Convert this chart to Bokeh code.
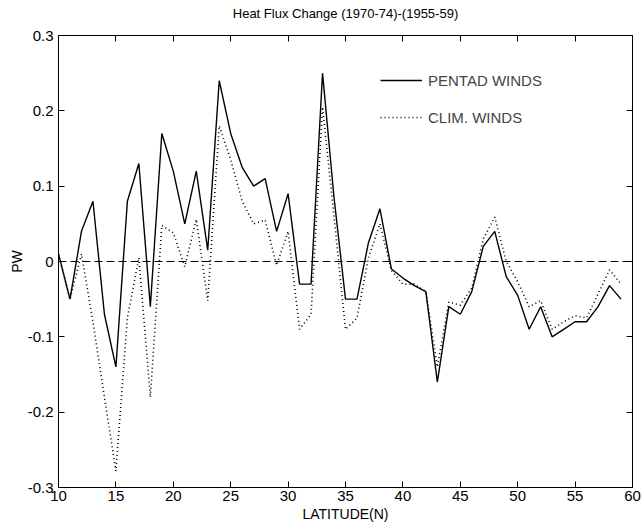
from bokeh.plotting import figure
from bokeh.models import (LinearAxis, Range1d, Span, Legend, LegendItem, FixedTicker,
                          CustomLabelingPolicy)
from bokeh.embed import file_html
from bokeh.resources import INLINE

# ---------------- data ----------------
latitude = list(range(10, 60))
pentad_winds = [0.01, -0.05, 0.04, 0.08, -0.07, -0.14, 0.08, 0.13, -0.06, 0.17,
                0.12, 0.05, 0.12, 0.015, 0.24, 0.17, 0.125, 0.10, 0.11, 0.04,
                0.09, -0.03, -0.03, 0.25, 0.085, -0.05, -0.05, 0.025, 0.07, -0.01,
                -0.022, -0.032, -0.04, -0.16, -0.06, -0.07, -0.04, 0.02, 0.04, -0.02,
                -0.045, -0.09, -0.06, -0.10, -0.09, -0.08, -0.08, -0.06, -0.032, -0.05]
clim_winds = [0.01, -0.05, 0.01, -0.08, -0.18, -0.278, -0.075, 0.005, -0.18, 0.048,
              0.038, -0.007, 0.056, -0.052, 0.18, 0.135, 0.08, 0.05, 0.055, -0.005,
              0.04, -0.09, -0.07, 0.205, 0.06, -0.09, -0.075, 0.005, 0.05, -0.012,
              -0.03, -0.03, -0.04, -0.14, -0.054, -0.058, -0.035, 0.03, 0.059, 0.0,
              -0.027, -0.06, -0.052, -0.09, -0.08, -0.072, -0.075, -0.043, -0.011, -0.03]
x_ticks = [10, 15, 20, 25, 30, 35, 40, 45, 50, 55, 60]
y_ticks = [-0.3, -0.2, -0.1, 0, 0.1, 0.2, 0.3]
y_tick_labels = ["-0.3", "-0.2", "-0.1", "0", "0.1", "0.2", "0.3"]
series_labels = ["PENTAD WINDS", "CLIM. WINDS"]
title_text = "Heat Flux Change (1970-74)-(1955-59)"

FONT = "'Liberation Sans', Arial, sans-serif"

p = figure(width=641, height=525, output_backend="svg", toolbar_location=None,
           x_range=Range1d(10, 60), y_range=Range1d(-0.3, 0.3),
           min_border_left=58, min_border_right=9, min_border_top=35,
           min_border_bottom=38)
p.background_fill_color = "white"
p.border_fill_color = "white"
p.outline_line_color = "black"
p.outline_line_width = 1
p.grid.visible = False

no_labels = CustomLabelingPolicy(code="for (const i of [...indices]) indices.unset(i); return indices;")

def style_axis(ax, labels=True):
    ax.axis_line_color = "black"
    ax.major_tick_in = 6
    ax.major_tick_out = 0
    ax.minor_tick_line_color = None
    ax.major_tick_line_color = "black"
    ax.major_label_text_font = FONT
    ax.major_label_text_color = "black"
    ax.axis_label_text_font = FONT
    ax.axis_label_text_font_size = "14px"
    ax.axis_label_text_font_style = "normal"
    ax.axis_label_text_color = "black"
    if labels:
        ax.major_label_text_font_size = "15px"
    else:
        ax.major_label_text_font_size = "0px"
        ax.major_label_standoff = 0
        ax.major_label_policy = no_labels

xax = p.xaxis[0]
xax.ticker = FixedTicker(ticks=x_ticks)
xax.axis_label = "LATITUDE(N)"
xax.axis_label_standoff = 2
xax.major_label_standoff = 3
style_axis(xax)

yax = p.yaxis[0]
yax.ticker = FixedTicker(ticks=y_ticks)
yax.major_label_overrides = dict(zip(y_ticks, y_tick_labels))
yax.axis_label = "PW"
yax.axis_label_standoff = 0
yax.major_label_standoff = 5
style_axis(yax)

# top axis: inward ticks, carries the chart title as its label
top = LinearAxis(ticker=FixedTicker(ticks=x_ticks))
style_axis(top, labels=False)
top.axis_label = title_text
top.axis_label_text_font_size = "13px"
top.axis_label_standoff = 15
p.add_layout(top, "above")

right = LinearAxis(ticker=FixedTicker(ticks=y_ticks))
style_axis(right, labels=False)
p.add_layout(right, "right")

p.add_layout(Span(location=0, dimension="width", line_color="black",
                  line_dash="8 4", line_width=1.2))

r1 = p.line(latitude, pentad_winds, line_color="black", line_width=1.4)
r2 = p.line(latitude, clim_winds, line_color="black", line_width=1.6,
            line_dash="1 3")

legend = Legend(items=[LegendItem(label=series_labels[0], renderers=[r1]),
                       LegendItem(label=series_labels[1], renderers=[r2])],
                location=(322, 360), orientation="vertical",
                glyph_width=42, glyph_height=20, label_height=20,
                label_standoff=6, spacing=17, padding=0, margin=0,
                border_line_color=None, background_fill_alpha=0,
                label_text_font=FONT, label_text_font_size="15px",
                label_text_baseline="alphabetic")
p.add_layout(legend)

open("out.html", "w").write(file_html(p, INLINE))
